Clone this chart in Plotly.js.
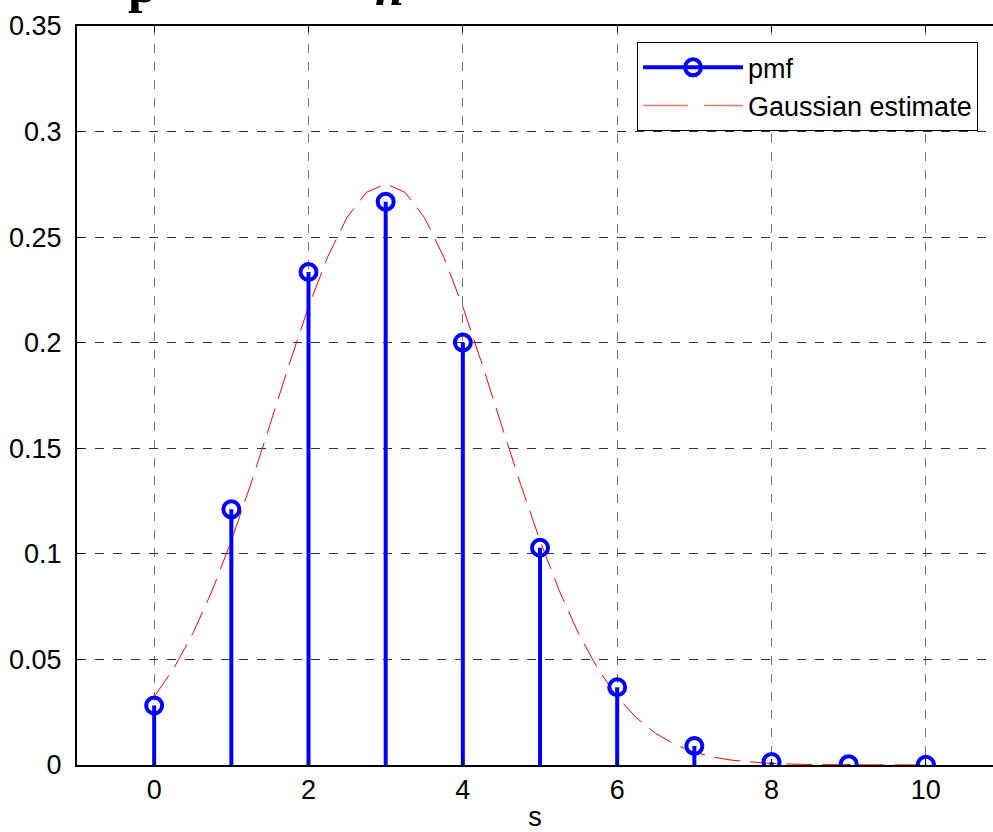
<!DOCTYPE html>
<html>
<head>
<meta charset="utf-8">
<script src="https://cdn.plot.ly/plotly-3.0.1.min.js"></script>
<style>html,body{margin:0;padding:0;background:#fff;}#chart{width:993px;height:832px;}</style>
</head>
<body>
<div id="chart"></div>
<script>
// pmf values read from the stems
var s = [0, 1, 2, 3, 4, 5, 6, 7, 8, 9, 10];
var pmf = [0.0282, 0.1211, 0.2335, 0.2668, 0.2001, 0.1029, 0.0368, 0.0090, 0.0014, 0.0004, 0.0001];

// Gaussian estimate curve
var gx = [0, 0.25, 0.5, 0.75, 1, 1.25, 1.5, 1.75, 2, 2.25, 2.5, 2.75, 3, 3.25, 3.5, 3.75, 4, 4.25, 4.5, 4.75, 5, 5.25, 5.5, 5.75, 6, 6.25, 6.5, 6.75, 7, 7.25, 7.5, 7.75, 8, 8.5, 9, 9.5, 10];
var gy = [0.0323, 0.0455, 0.0622, 0.0825, 0.1062, 0.1328, 0.1611, 0.1898, 0.2170, 0.2408, 0.2594, 0.2712, 0.2753, 0.2712, 0.2594, 0.2408, 0.2170, 0.1898, 0.1611, 0.1328, 0.1062, 0.0825, 0.0622, 0.0455, 0.0323, 0.0223, 0.0149, 0.0097, 0.0061, 0.0037, 0.0022, 0.0013, 0.0007, 0.0002, 0.0001, 0.0000, 0.0000];

var yTicks = [0, 0.05, 0.1, 0.15, 0.2, 0.25, 0.3, 0.35];
var yTickText = ['0', '0.05', '0.1', '0.15', '0.2', '0.25', '0.3', '0.35'];
var xTicks = [0, 2, 4, 6, 8, 10];

// build stem segments from the pmf arrays
var stemX = [], stemY = [];
for (var i = 0; i < s.length; i++) {
  stemX.push(s[i], s[i], null);
  stemY.push(0, pmf[i], null);
}

var blue = '#0000ff';
var mk = {symbol: 'circle-open', size: 16, color: blue, line: {width: 4, color: blue}};
var traces = [
  {x: gx, y: gy, type: 'scatter', mode: 'lines', showlegend: false,
   line: {color: '#ff0000', width: 1, dash: '26px,10px'}, hoverinfo: 'skip'},
  {x: stemX, y: stemY, type: 'scatter', mode: 'lines', showlegend: false,
   line: {color: blue, width: 4}, hoverinfo: 'skip'},
  {x: s, y: pmf, type: 'scatter', mode: 'markers', showlegend: false, marker: mk},
  {x: [null], y: [null], type: 'scatter', mode: 'lines+markers', name: 'pmf',
   line: {color: blue, width: 4}, marker: mk},
  {x: [null], y: [null], type: 'scatter', mode: 'lines', name: 'Gaussian estimate',
   line: {color: '#ff7070', width: 1.5, dash: '45px,16px'}}
];

var font = {family: 'Liberation Sans, Arial, sans-serif', size: 27, color: '#000'};

var layout = {
  width: 993, height: 832,
  margin: {l: 77, r: 0, t: 26, b: 67, pad: 0},
  paper_bgcolor: '#fff', plot_bgcolor: '#fff',
  font: font,
  showlegend: true,
  legend: {
    x: 0.6114, y: 0.978, xanchor: 'left', yanchor: 'top',
    bgcolor: '#fff', bordercolor: '#000', borderwidth: 1,
    font: font, itemwidth: 100, tracegroupgap: 0
  },
  xaxis: {
    range: [-1, 10.87], tickvals: xTicks, ticktext: xTicks.map(String),
    showgrid: true, gridcolor: '#777', griddash: 'dash', gridwidth: 1,
    zeroline: false, showline: true, linecolor: '#000', linewidth: 2,
    mirror: 'ticks', ticks: 'inside', ticklen: 6, tickcolor: '#000',
    tickfont: font,
    title: {text: 's', font: font, standoff: 20}
  },
  yaxis: {
    range: [0, 0.35], tickvals: yTicks, ticktext: yTickText,
    showgrid: true, gridcolor: '#333', griddash: 'dash', gridwidth: 1,
    zeroline: false, showline: true, linecolor: '#000', linewidth: 2,
    ticks: 'inside', ticklen: 6, tickcolor: '#000', ticklabelstandoff: 8,
    tickfont: font
  },
  annotations: [
    {x: -0.145, y: 1.015, xref: 'x', yref: 'paper', xanchor: 'center', yanchor: 'bottom',
     text: '<b>p</b>', showarrow: false,
     font: {family: 'Liberation Serif, Times New Roman, serif', size: 52, color: '#000'}},
    {x: 3.05, y: 1.0105, xref: 'x', yref: 'paper', xanchor: 'center', yanchor: 'bottom',
     text: '<b><i>n</i></b>', showarrow: false,
     font: {family: 'Liberation Serif, Times New Roman, serif', size: 52, color: '#000'}}
  ]
};

Plotly.newPlot('chart', traces, layout, {displayModeBar: false, staticPlot: true});
</script>
</body>
</html>
